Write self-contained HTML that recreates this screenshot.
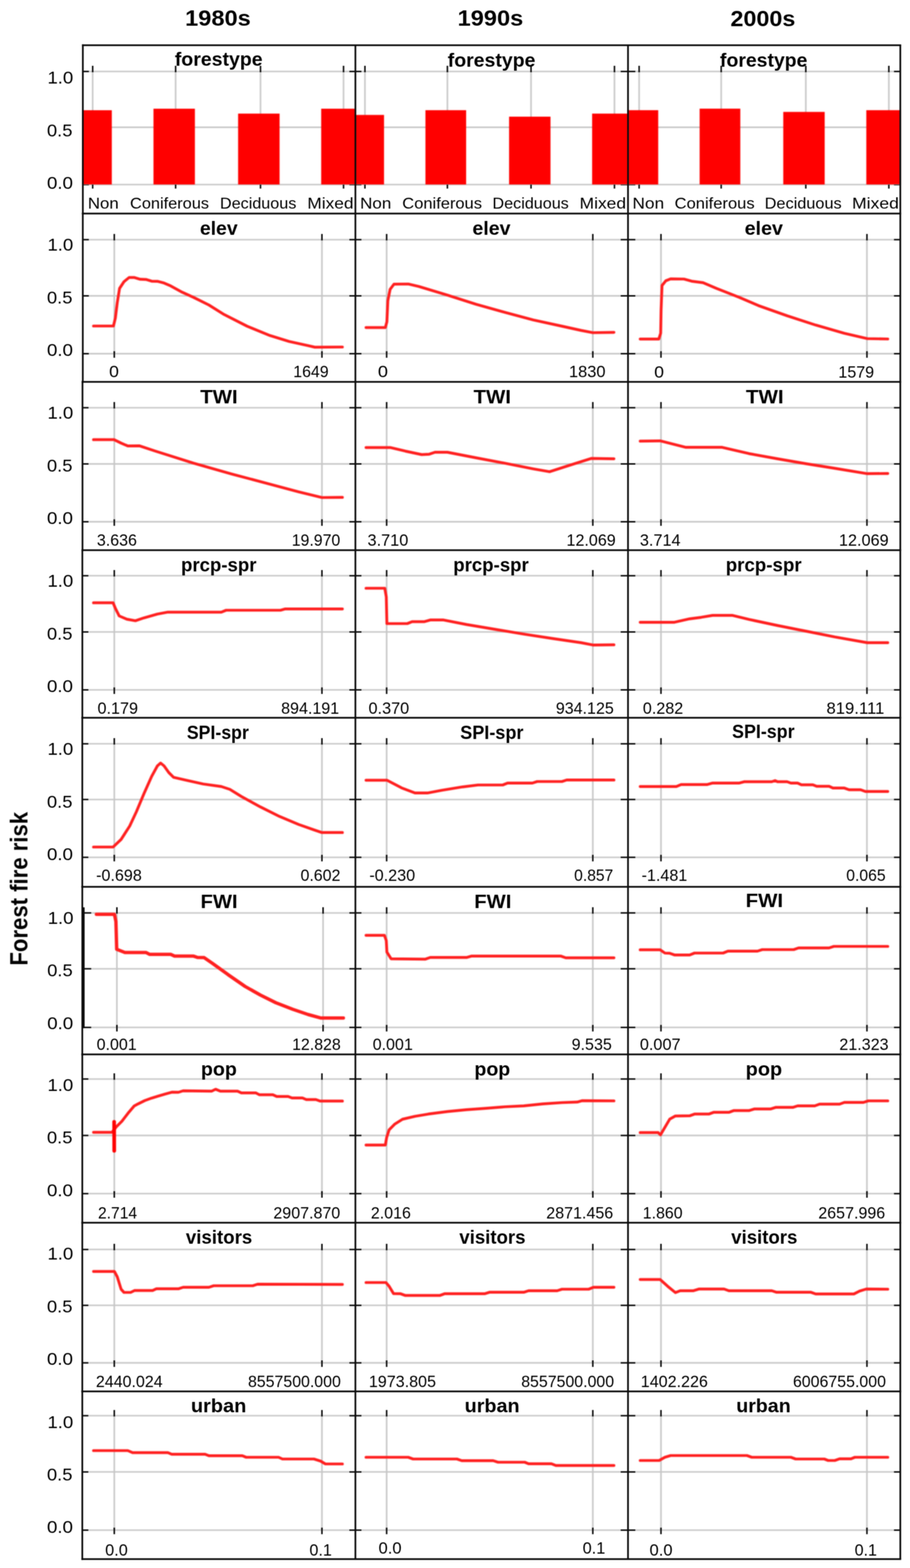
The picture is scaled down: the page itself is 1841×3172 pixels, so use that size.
<!DOCTYPE html>
<html lang="en">
<head>
<meta charset="utf-8">
<title>Forest fire risk response curves: 1980s, 1990s, 2000s</title>
<style>
html,body{margin:0;padding:0;background:#ffffff;}
body{width:1841px;height:3172px;overflow:hidden;}
svg{display:block;}
</style>
</head>
<body>
<svg width="1841" height="3172" viewBox="0 0 1841 3172">
<defs>
<filter id="soft5" x="0" y="0" width="1841" height="3172" filterUnits="userSpaceOnUse" color-interpolation-filters="sRGB"><feConvolveMatrix order="5" kernelMatrix="1 4 6 4 1 4 16 24 16 4 6 24 36 24 6 4 16 24 16 4 1 4 6 4 1" divisor="256" edgeMode="duplicate" preserveAlpha="false"/></filter>
<filter id="soft3" x="0" y="0" width="1841" height="3172" filterUnits="userSpaceOnUse" color-interpolation-filters="sRGB"><feConvolveMatrix order="3" kernelMatrix="1 2 1 2 4 2 1 2 1" divisor="16" edgeMode="duplicate" preserveAlpha="false"/></filter>
</defs>
<rect width="1841" height="3172" fill="#ffffff"/>
<g filter="url(#soft5)">
<g id="grid" fill="none" stroke="#c4c4c4" stroke-width="2.8">
<path d="M167 144.6H719"/>
<path d="M167 257.5H719"/>
<path d="M167 373.3H719"/>
<path stroke="#c6c6c6" stroke-width="3.1" d="M187.5 144.6V373.3"/>
<path stroke="#c6c6c6" stroke-width="3.1" d="M355.3 144.6V373.3"/>
<path stroke="#c6c6c6" stroke-width="3.1" d="M527 144.6V373.3"/>
<path stroke="#c6c6c6" stroke-width="3.1" d="M695 144.6V373.3"/>
<path d="M719 144.6H1270.5"/>
<path d="M719 257.5H1270.5"/>
<path d="M719 373.3H1270.5"/>
<path stroke="#c6c6c6" stroke-width="3.1" d="M738.3 144.6V373.3"/>
<path stroke="#c6c6c6" stroke-width="3.1" d="M905.1 144.6V373.3"/>
<path stroke="#c6c6c6" stroke-width="3.1" d="M1074.3 144.6V373.3"/>
<path stroke="#c6c6c6" stroke-width="3.1" d="M1243.1 144.6V373.3"/>
<path d="M1270.5 144.6H1821.4"/>
<path d="M1270.5 257.5H1821.4"/>
<path d="M1270.5 373.3H1821.4"/>
<path stroke="#c6c6c6" stroke-width="3.1" d="M1293 144.6V373.3"/>
<path stroke="#c6c6c6" stroke-width="3.1" d="M1459 144.6V373.3"/>
<path stroke="#c6c6c6" stroke-width="3.1" d="M1630.2 144.6V373.3"/>
<path stroke="#c6c6c6" stroke-width="3.1" d="M1798.2 144.6V373.3"/>
<path d="M167 484.8H719"/>
<path d="M167 598.5H719"/>
<path d="M167 715.5H719"/>
<path stroke="#c6c6c6" stroke-width="3.1" d="M231.2 484.8V715.5"/>
<path stroke="#c6c6c6" stroke-width="3.1" d="M651.3 484.8V715.5"/>
<path d="M719 484.8H1270.5"/>
<path d="M719 598.5H1270.5"/>
<path d="M719 715.5H1270.5"/>
<path stroke="#c6c6c6" stroke-width="3.1" d="M782.2 484.8V715.5"/>
<path stroke="#c6c6c6" stroke-width="3.1" d="M1199.3 484.8V715.5"/>
<path d="M1270.5 484.8H1821.4"/>
<path d="M1270.5 598.5H1821.4"/>
<path d="M1270.5 715.5H1821.4"/>
<path stroke="#c6c6c6" stroke-width="3.1" d="M1337.2 484.8V715.5"/>
<path stroke="#c6c6c6" stroke-width="3.1" d="M1753.9 484.8V715.5"/>
<path d="M167 824.8H719"/>
<path d="M167 938.5H719"/>
<path d="M167 1055.5H719"/>
<path stroke="#c6c6c6" stroke-width="3.1" d="M231.2 824.8V1055.5"/>
<path stroke="#c6c6c6" stroke-width="3.1" d="M651.3 824.8V1055.5"/>
<path d="M719 824.8H1270.5"/>
<path d="M719 938.5H1270.5"/>
<path d="M719 1055.5H1270.5"/>
<path stroke="#c6c6c6" stroke-width="3.1" d="M782.2 824.8V1055.5"/>
<path stroke="#c6c6c6" stroke-width="3.1" d="M1199.3 824.8V1055.5"/>
<path d="M1270.5 824.8H1821.4"/>
<path d="M1270.5 938.5H1821.4"/>
<path d="M1270.5 1055.5H1821.4"/>
<path stroke="#c6c6c6" stroke-width="3.1" d="M1337.2 824.8V1055.5"/>
<path stroke="#c6c6c6" stroke-width="3.1" d="M1753.9 824.8V1055.5"/>
<path d="M167 1164.7H719"/>
<path d="M167 1278.4H719"/>
<path d="M167 1395.6H719"/>
<path stroke="#c6c6c6" stroke-width="3.1" d="M231.2 1164.7V1395.6"/>
<path stroke="#c6c6c6" stroke-width="3.1" d="M651.3 1164.7V1395.6"/>
<path d="M719 1164.7H1270.5"/>
<path d="M719 1278.4H1270.5"/>
<path d="M719 1395.6H1270.5"/>
<path stroke="#c6c6c6" stroke-width="3.1" d="M782.2 1164.7V1395.6"/>
<path stroke="#c6c6c6" stroke-width="3.1" d="M1199.3 1164.7V1395.6"/>
<path d="M1270.5 1164.7H1821.4"/>
<path d="M1270.5 1278.4H1821.4"/>
<path d="M1270.5 1395.6H1821.4"/>
<path stroke="#c6c6c6" stroke-width="3.1" d="M1337.2 1164.7V1395.6"/>
<path stroke="#c6c6c6" stroke-width="3.1" d="M1753.9 1164.7V1395.6"/>
<path d="M167 1504.7H719"/>
<path d="M167 1617.3H719"/>
<path d="M167 1734.3H719"/>
<path stroke="#c6c6c6" stroke-width="3.1" d="M231.2 1504.7V1734.3"/>
<path stroke="#c6c6c6" stroke-width="3.1" d="M651.3 1504.7V1734.3"/>
<path d="M719 1504.7H1270.5"/>
<path d="M719 1617.3H1270.5"/>
<path d="M719 1734.3H1270.5"/>
<path stroke="#c6c6c6" stroke-width="3.1" d="M782.2 1504.7V1734.3"/>
<path stroke="#c6c6c6" stroke-width="3.1" d="M1199.3 1504.7V1734.3"/>
<path d="M1270.5 1504.7H1821.4"/>
<path d="M1270.5 1617.3H1821.4"/>
<path d="M1270.5 1734.3H1821.4"/>
<path stroke="#c6c6c6" stroke-width="3.1" d="M1337.2 1504.7V1734.3"/>
<path stroke="#c6c6c6" stroke-width="3.1" d="M1753.9 1504.7V1734.3"/>
<path d="M167 1846.8H719"/>
<path d="M167 1959.8H719"/>
<path d="M167 2078.4H719"/>
<path stroke="#c6c6c6" stroke-width="3.1" d="M236.5 1846.8V2078.4"/>
<path stroke="#c6c6c6" stroke-width="3.1" d="M653.6 1846.8V2078.4"/>
<path d="M719 1846.8H1270.5"/>
<path d="M719 1959.8H1270.5"/>
<path d="M719 2078.4H1270.5"/>
<path stroke="#c6c6c6" stroke-width="3.1" d="M782.2 1846.8V2078.4"/>
<path stroke="#c6c6c6" stroke-width="3.1" d="M1199.3 1846.8V2078.4"/>
<path d="M1270.5 1846.8H1821.4"/>
<path d="M1270.5 1959.8H1821.4"/>
<path d="M1270.5 2078.4H1821.4"/>
<path stroke="#c6c6c6" stroke-width="3.1" d="M1337.2 1846.8V2078.4"/>
<path stroke="#c6c6c6" stroke-width="3.1" d="M1753.9 1846.8V2078.4"/>
<path d="M167 2182.8H719"/>
<path d="M167 2297H719"/>
<path d="M167 2414.7H719"/>
<path stroke="#c6c6c6" stroke-width="3.1" d="M231.2 2182.8V2414.7"/>
<path stroke="#c6c6c6" stroke-width="3.1" d="M651.3 2182.8V2414.7"/>
<path d="M719 2182.8H1270.5"/>
<path d="M719 2297H1270.5"/>
<path d="M719 2414.7H1270.5"/>
<path stroke="#c6c6c6" stroke-width="3.1" d="M782.2 2182.8V2414.7"/>
<path stroke="#c6c6c6" stroke-width="3.1" d="M1199.3 2182.8V2414.7"/>
<path d="M1270.5 2182.8H1821.4"/>
<path d="M1270.5 2297H1821.4"/>
<path d="M1270.5 2414.7H1821.4"/>
<path stroke="#c6c6c6" stroke-width="3.1" d="M1337.2 2182.8V2414.7"/>
<path stroke="#c6c6c6" stroke-width="3.1" d="M1753.9 2182.8V2414.7"/>
<path d="M167 2527.7H719"/>
<path d="M167 2640.7H719"/>
<path d="M167 2757H719"/>
<path stroke="#c6c6c6" stroke-width="3.1" d="M231.2 2527.7V2757"/>
<path stroke="#c6c6c6" stroke-width="3.1" d="M651.3 2527.7V2757"/>
<path d="M719 2527.7H1270.5"/>
<path d="M719 2640.7H1270.5"/>
<path d="M719 2757H1270.5"/>
<path stroke="#c6c6c6" stroke-width="3.1" d="M782.2 2527.7V2757"/>
<path stroke="#c6c6c6" stroke-width="3.1" d="M1199.3 2527.7V2757"/>
<path d="M1270.5 2527.7H1821.4"/>
<path d="M1270.5 2640.7H1821.4"/>
<path d="M1270.5 2757H1821.4"/>
<path stroke="#c6c6c6" stroke-width="3.1" d="M1337.2 2527.7V2757"/>
<path stroke="#c6c6c6" stroke-width="3.1" d="M1753.9 2527.7V2757"/>
<path d="M167 2863.9H719"/>
<path d="M167 2977.7H719"/>
<path d="M167 3095.4H719"/>
<path stroke="#c6c6c6" stroke-width="3.1" d="M231.2 2863.9V3095.4"/>
<path stroke="#c6c6c6" stroke-width="3.1" d="M651.3 2863.9V3095.4"/>
<path d="M719 2863.9H1270.5"/>
<path d="M719 2977.7H1270.5"/>
<path d="M719 3095.4H1270.5"/>
<path stroke="#c6c6c6" stroke-width="3.1" d="M782.2 2863.9V3095.4"/>
<path stroke="#c6c6c6" stroke-width="3.1" d="M1199.3 2863.9V3095.4"/>
<path d="M1270.5 2863.9H1821.4"/>
<path d="M1270.5 2977.7H1821.4"/>
<path d="M1270.5 3095.4H1821.4"/>
<path stroke="#c6c6c6" stroke-width="3.1" d="M1337.2 2863.9V3095.4"/>
<path stroke="#c6c6c6" stroke-width="3.1" d="M1753.9 2863.9V3095.4"/>
</g>
<g id="bars" fill="#ff0000">
<rect x="167" y="223" width="59.2" height="150.2"/>
<rect x="310.5" y="219.9" width="83.8" height="153.3"/>
<rect x="481.7" y="229.8" width="83.9" height="143.4"/>
<rect x="649.8" y="219.9" width="69.2" height="153.3"/>
<rect x="719" y="232.5" width="57.9" height="140.7"/>
<rect x="860.7" y="222.9" width="82.3" height="150.3"/>
<rect x="1029.9" y="236" width="83.8" height="137.2"/>
<rect x="1197.9" y="229.8" width="72.6" height="143.4"/>
<rect x="1270.5" y="222.9" width="61.1" height="150.3"/>
<rect x="1415.4" y="219.8" width="82.3" height="153.4"/>
<rect x="1584.6" y="226.4" width="83.8" height="146.8"/>
<rect x="1752.6" y="222.9" width="68.8" height="150.3"/>
</g>
<g id="curves" fill="none" stroke="#ff2020" stroke-width="5.7" stroke-linejoin="round" stroke-linecap="round">
<path d="M189.2 659.5L229.5 659.5L233.4 643.3L237.2 612.4L241.9 583.4L250.8 569.9L261.2 561.4L272 561.4L283.6 564.9L295.2 565.3L306.8 568.8L318.4 569.1L331.9 572.6L345.4 578.4L368.6 591.2L391.7 601.6L422.6 617L453.5 636.3L499.9 659.9L546.2 678.8L584.9 690.8L623.5 699.3L637 702.4L692.7 702.02"/>
<path d="M740.5 662.6L779.6 662.6L782.7 651L784.6 608.5L789.2 585.4L797 574.9L825.9 574.5L847.2 579.6L905.1 596.9L963 615.5L1021 631.7L1078.9 647.2L1136.9 659.9L1175.5 668.4L1199.4 673L1242 672.33"/>
<path d="M1295.2 685.8L1332.8 685.8L1336.6 674.2L1337.4 627.8L1339.3 577.6L1347 568L1356.7 564.1L1383.7 564.5L1399.2 568.8L1422.4 571.8L1449.4 583.4L1495.8 601.6L1534.4 618.2L1592.3 638.7L1650.2 657.6L1708.2 674.2L1754.5 685L1796 685.76"/>
<path d="M189.2 889.4L230.7 889.4L245 896.4L258.5 902.2L281.7 901.8L314.5 912.6L391.7 937L469 959L546.2 979.4L604.2 994.9L651.3 1006.5L692.7 1006.12"/>
<path d="M740.5 905.3L789.3 905.3L820.1 912.6L853 919.6L868.4 918.8L880 914.9L905.1 914.9L963.1 926.1L1021 937L1078.9 948.5L1111.8 954.3L1156.2 940L1196.7 927.3L1242 928.06"/>
<path d="M1295.2 892.46L1335.5 891.8L1387.6 904.9L1461 904.9L1515.1 917.6L1573 928.1L1630.9 938.1L1688.9 947.4L1754.5 958.2L1796 957.82"/>
<path d="M189.2 1219.4L228.8 1219.4L233.4 1230.6L241.1 1246L256.6 1252.6L273.9 1255.7L291.3 1249.9L318.4 1242.2L339.6 1238.3L447.8 1238.3L457.4 1234.5L567.5 1234.5L577.2 1231.8L692.7 1231.8"/>
<path d="M740.5 1190L778.4 1190L781.5 1207.4L782.7 1261.5L824 1261.5L833.7 1257.6L858.8 1257.6L870.4 1254.2L897.4 1254.2L943.8 1263.4L1001.7 1273.1L1059.6 1282.7L1117.6 1291.6L1175.5 1300.1L1199.4 1304.8L1242 1304.42"/>
<path d="M1295.2 1258.8L1364.4 1258.8L1395.3 1251.8L1418.5 1248.8L1441.7 1244.9L1482.2 1244.9L1515.1 1253L1573 1265.4L1630.9 1276.9L1688.9 1288.5L1754.5 1300.1L1796 1300.1"/>
<path d="M189.2 1713.5L228.8 1713.5L245 1698.1L262.4 1671L275.9 1642.1L291.3 1605.4L306.8 1570.6L318.4 1549.4L324.9 1543.6L331.9 1549.4L341.5 1562.9L351.2 1572.5L376.3 1578.3L411.1 1586L447.8 1591.1L465.1 1596.9L488.3 1611.2L526.9 1632.4L565.6 1651.7L604.2 1667.9L635.1 1678.7L651.3 1684.2L692.7 1684.2"/>
<path d="M740.5 1578.3L782.7 1578.3L812.4 1593.8L839.5 1604.2L864.6 1604.2L893.5 1598.8L936 1591.8L966.9 1588L1017.1 1588L1026.8 1584.1L1077 1584.1L1086.7 1581L1136.9 1581L1146.5 1577.9L1242 1577.9"/>
<path d="M1295.2 1591.1L1368.3 1591.1L1377.9 1587.2L1430.1 1587.2L1441.7 1584.1L1495.8 1584.1L1505.4 1581.4L1561.4 1581.4L1568 1579.1L1573 1581.4L1592.3 1581.4L1600 1584.1L1613.6 1584.1L1621.3 1587.6L1644.5 1587.6L1652.2 1590.7L1677.3 1590.7L1685 1594.2L1708.2 1594.2L1717.8 1597.6L1741 1597.6L1750.7 1601.1L1796 1601.1"/>
<path stroke-width="6.8" d="M195 1849.6L231.5 1849.6L234.5 1864.3L236.1 1920.3L252.7 1926.8L295.2 1926.8L302.9 1930.7L345.4 1930.7L353.1 1934.2L391.7 1934.2L399.5 1936.9L413 1937.2L430.4 1949.2L461.3 1971.6L496 1995.6L526.9 2013L557.8 2028.4L592.6 2041.9L623.5 2052.4L648.6 2059.3L694.7 2059.3"/>
<path d="M740.5 1892.1L777.7 1892.1L781.5 1902.9L782.7 1926L791.2 1939.6L860.7 1940.3L870.4 1936.9L943.8 1936.9L953.4 1934.2L1135 1934.2L1144.6 1937.6L1242 1937.6"/>
<path d="M1295.2 1921.4L1335.5 1921.4L1345.1 1928L1354.8 1928.4L1364.4 1931.8L1395.3 1931.8L1405 1928L1462.9 1928L1472.6 1924.1L1532.4 1924.1L1542.1 1921L1605.8 1921L1615.5 1917.6L1677.3 1917.6L1686.9 1914.5L1796 1914.5"/>
<path d="M189.2 2290.6L226.5 2290.6L235.6 2279.2L246.6 2268.2L258.9 2252.2L271.2 2237.6L279.4 2233.1L293 2226.4L306.7 2221.4L320.4 2217.3L334 2213.2L347.7 2209.4L361 2209.6L370.5 2206.6L428.4 2207.3L436.2 2203.5L445.8 2207.3L480.6 2207.3L488.3 2210.8L517.3 2210.8L525 2214.7L552 2214.7L559.8 2218.2L582.9 2218.2L590.7 2221.2L611.9 2221.2L619.6 2224.3L639 2224.3L647.4 2227.4L692.7 2227.4"/>
<path d="M740.5 2316.3L779.6 2316.3L782.3 2300.8L787.3 2285.4L798.9 2273.8L814.4 2264.1L839.5 2258.3L866.5 2253.7L905.1 2248.7L943.8 2244.8L982.4 2242.1L1021 2239L1059.6 2237.1L1098.2 2233.2L1136.9 2230.5L1167.8 2229.4L1177.4 2226.7L1242 2226.99"/>
<path d="M1295.2 2291.2L1331.6 2291.2L1336.2 2295.8L1354.8 2264.1L1366.4 2257.6L1395.3 2257.2L1405 2253.7L1434 2253.7L1443.6 2250.2L1474.5 2250.2L1484.2 2246.7L1515.1 2246.7L1526.6 2243.3L1559.5 2243.3L1569.1 2240.2L1603.9 2240.2L1613.6 2237.1L1648.3 2237.1L1658 2233.6L1698.5 2233.6L1708.2 2230.1L1746.8 2230.1L1756.5 2227L1796 2227"/>
<path d="M189.2 2572.1L231.5 2572.1L237.2 2582.9L245 2608L250.8 2614.5L264.3 2614.5L272 2610.7L308.7 2610.7L316.4 2607.2L360.8 2607.2L370.5 2604.1L422.6 2604.1L432.3 2601L511.5 2601L521.1 2597.9L692.7 2598.29"/>
<path d="M740.5 2594.5L780.8 2594.5L787.3 2602.2L796.2 2616.9L810.5 2617.2L820.1 2620.7L889.7 2620.7L899.3 2617.2L980.4 2617.2L990.1 2614.2L1059.6 2614.2L1069.3 2611.1L1127.2 2611.1L1136.9 2608L1190.9 2608L1200.6 2604.1L1242 2604.1"/>
<path d="M1295.2 2588.3L1335.5 2588.3L1350.9 2602.2L1366.4 2614.9L1376 2611.1L1403 2611.1L1414.6 2607.6L1464.8 2607.6L1474.5 2611.1L1561.4 2611.1L1571.1 2614.2L1640.6 2614.2L1650.2 2617.6L1727.5 2617.6L1739.1 2611.8L1752.6 2607.6L1796 2607.98"/>
<path d="M189.2 2934.5L258.5 2934.5L268.2 2938.7L339.6 2938.7L347.3 2941.8L414.9 2941.8L422.6 2944.9L490.2 2944.9L498 2948L563.6 2948L571.4 2951.5L635.1 2951.5L648.6 2955.7L658.3 2961.5L692.7 2961.5"/>
<path d="M740.5 2948L825.9 2948L835.6 2951.5L924.4 2951.5L934.1 2954.9L997.8 2954.9L1007.5 2958L1061.6 2958L1069.3 2961.1L1115.6 2961.1L1124.5 2964.6L1242 2964.6"/>
<path d="M1295.2 2954.5L1333.5 2954.5L1345.1 2948L1356.7 2944.5L1511.2 2944.5L1520.9 2948L1600 2948L1609.7 2951.5L1667.6 2951.5L1675.4 2954.5L1688.9 2954.5L1698.5 2951.1L1721.7 2951.1L1729.4 2948L1796 2948"/>
<path stroke="#ff0000" stroke-linecap="round" stroke-width="7.4" d="M230.9 2269.5L231.1 2328"/>
</g>
</g>
<g filter="url(#soft3)">
<g id="ticks" fill="none" stroke="#141414" stroke-width="3.2">
<path d="M187.5 133.1V146.1"/>
<path d="M187.5 373.3V381.5"/>
<path d="M355.3 133.1V146.1"/>
<path d="M355.3 373.3V381.5"/>
<path d="M527 133.1V146.1"/>
<path d="M527 373.3V381.5"/>
<path d="M695 133.1V146.1"/>
<path d="M695 373.3V381.5"/>
<path d="M738.3 133.1V146.1"/>
<path d="M738.3 373.3V381.5"/>
<path d="M905.1 133.1V146.1"/>
<path d="M905.1 373.3V381.5"/>
<path d="M1074.3 133.1V146.1"/>
<path d="M1074.3 373.3V381.5"/>
<path d="M1243.1 133.1V146.1"/>
<path d="M1243.1 373.3V381.5"/>
<path d="M1293 133.1V146.1"/>
<path d="M1293 373.3V381.5"/>
<path d="M1459 133.1V146.1"/>
<path d="M1459 373.3V381.5"/>
<path d="M1630.2 133.1V146.1"/>
<path d="M1630.2 373.3V381.5"/>
<path d="M1798.2 133.1V146.1"/>
<path d="M1798.2 373.3V381.5"/>
<path stroke-width="2.9" d="M167.6 144.6H179.8"/>
<path stroke-width="2.9" d="M706.8 144.6H731.2"/>
<path stroke-width="2.9" d="M1255.7 144.6H1285.3"/>
<path stroke-width="2.9" d="M1808.6 144.6H1821.4"/>
<path stroke-width="1.4" d="M167.6 374.1H179.8"/>
<path stroke-width="1.4" d="M706.8 374.1H731.2"/>
<path stroke-width="1.4" d="M1255.7 374.1H1285.3"/>
<path stroke-width="1.4" d="M1808.6 374.1H1821.4"/>
<path d="M231.2 473.3V486.3"/>
<path d="M231.2 710.5V723.7"/>
<path d="M651.3 473.3V486.3"/>
<path d="M651.3 710.5V723.7"/>
<path d="M782.2 473.3V486.3"/>
<path d="M782.2 710.5V723.7"/>
<path d="M1199.3 473.3V486.3"/>
<path d="M1199.3 710.5V723.7"/>
<path d="M1337.2 473.3V486.3"/>
<path d="M1337.2 710.5V723.7"/>
<path d="M1753.9 473.3V486.3"/>
<path d="M1753.9 710.5V723.7"/>
<path stroke-width="2.9" d="M167.5 484.8H179.7"/>
<path stroke-width="2.9" d="M706.8 484.8H731.2"/>
<path stroke-width="2.9" d="M1255.7 484.8H1285.3"/>
<path stroke-width="2.9" d="M1808.6 484.8H1821.4"/>
<path stroke-width="2.9" d="M167.5 598.5H179.7"/>
<path stroke-width="2.9" d="M706.8 598.5H731.2"/>
<path stroke-width="2.9" d="M1255.7 598.5H1285.3"/>
<path stroke-width="2.9" d="M1808.6 598.5H1821.4"/>
<path stroke-width="2.9" d="M167.5 715.5H179.7"/>
<path stroke-width="2.9" d="M706.8 715.5H731.2"/>
<path stroke-width="2.9" d="M1255.7 715.5H1285.3"/>
<path stroke-width="2.9" d="M1808.6 715.5H1821.4"/>
<path d="M231.2 813.3V826.3"/>
<path d="M231.2 1050.5V1063.7"/>
<path d="M651.3 813.3V826.3"/>
<path d="M651.3 1050.5V1063.7"/>
<path d="M782.2 813.3V826.3"/>
<path d="M782.2 1050.5V1063.7"/>
<path d="M1199.3 813.3V826.3"/>
<path d="M1199.3 1050.5V1063.7"/>
<path d="M1337.2 813.3V826.3"/>
<path d="M1337.2 1050.5V1063.7"/>
<path d="M1753.9 813.3V826.3"/>
<path d="M1753.9 1050.5V1063.7"/>
<path stroke-width="2.9" d="M166.9 824.8H179.1"/>
<path stroke-width="2.9" d="M706.8 824.8H731.2"/>
<path stroke-width="2.9" d="M1255.7 824.8H1285.3"/>
<path stroke-width="2.9" d="M1808.6 824.8H1821.4"/>
<path stroke-width="2.9" d="M166.9 938.5H179.1"/>
<path stroke-width="2.9" d="M706.8 938.5H731.2"/>
<path stroke-width="2.9" d="M1255.7 938.5H1285.3"/>
<path stroke-width="2.9" d="M1808.6 938.5H1821.4"/>
<path stroke-width="2.9" d="M166.9 1055.5H179.1"/>
<path stroke-width="2.9" d="M706.8 1055.5H731.2"/>
<path stroke-width="2.9" d="M1255.7 1055.5H1285.3"/>
<path stroke-width="2.9" d="M1808.6 1055.5H1821.4"/>
<path d="M231.2 1153.2V1166.2"/>
<path d="M231.2 1390.6V1403.8"/>
<path d="M651.3 1153.2V1166.2"/>
<path d="M651.3 1390.6V1403.8"/>
<path d="M782.2 1153.2V1166.2"/>
<path d="M782.2 1390.6V1403.8"/>
<path d="M1199.3 1153.2V1166.2"/>
<path d="M1199.3 1390.6V1403.8"/>
<path d="M1337.2 1153.2V1166.2"/>
<path d="M1337.2 1390.6V1403.8"/>
<path d="M1753.9 1153.2V1166.2"/>
<path d="M1753.9 1390.6V1403.8"/>
<path stroke-width="2.9" d="M166.6 1164.7H178.8"/>
<path stroke-width="2.9" d="M706.8 1164.7H731.2"/>
<path stroke-width="2.9" d="M1255.7 1164.7H1285.3"/>
<path stroke-width="2.9" d="M1808.6 1164.7H1821.4"/>
<path stroke-width="2.9" d="M166.6 1278.4H178.8"/>
<path stroke-width="2.9" d="M706.8 1278.4H731.2"/>
<path stroke-width="2.9" d="M1255.7 1278.4H1285.3"/>
<path stroke-width="2.9" d="M1808.6 1278.4H1821.4"/>
<path stroke-width="2.9" d="M166.6 1395.6H178.8"/>
<path stroke-width="2.9" d="M706.8 1395.6H731.2"/>
<path stroke-width="2.9" d="M1255.7 1395.6H1285.3"/>
<path stroke-width="2.9" d="M1808.6 1395.6H1821.4"/>
<path d="M231.2 1493.2V1506.2"/>
<path d="M231.2 1729.3V1742.5"/>
<path d="M651.3 1493.2V1506.2"/>
<path d="M651.3 1729.3V1742.5"/>
<path d="M782.2 1493.2V1506.2"/>
<path d="M782.2 1729.3V1742.5"/>
<path d="M1199.3 1493.2V1506.2"/>
<path d="M1199.3 1729.3V1742.5"/>
<path d="M1337.2 1493.2V1506.2"/>
<path d="M1337.2 1729.3V1742.5"/>
<path d="M1753.9 1493.2V1506.2"/>
<path d="M1753.9 1729.3V1742.5"/>
<path stroke-width="2.9" d="M166.5 1504.7H178.7"/>
<path stroke-width="2.9" d="M706.8 1504.7H731.2"/>
<path stroke-width="2.9" d="M1255.7 1504.7H1285.3"/>
<path stroke-width="2.9" d="M1808.6 1504.7H1821.4"/>
<path stroke-width="2.9" d="M166.5 1617.3H178.7"/>
<path stroke-width="2.9" d="M706.8 1617.3H731.2"/>
<path stroke-width="2.9" d="M1255.7 1617.3H1285.3"/>
<path stroke-width="2.9" d="M1808.6 1617.3H1821.4"/>
<path stroke-width="2.9" d="M166.5 1734.3H178.7"/>
<path stroke-width="2.9" d="M706.8 1734.3H731.2"/>
<path stroke-width="2.9" d="M1255.7 1734.3H1285.3"/>
<path stroke-width="2.9" d="M1808.6 1734.3H1821.4"/>
<path d="M236.5 1835.3V1848.3"/>
<path d="M236.5 2073.4V2086.6"/>
<path d="M653.6 1835.3V1848.3"/>
<path d="M653.6 2073.4V2086.6"/>
<path d="M782.2 1835.3V1848.3"/>
<path d="M782.2 2073.4V2086.6"/>
<path d="M1199.3 1835.3V1848.3"/>
<path d="M1199.3 2073.4V2086.6"/>
<path d="M1337.2 1835.3V1848.3"/>
<path d="M1337.2 2073.4V2086.6"/>
<path d="M1753.9 1835.3V1848.3"/>
<path d="M1753.9 2073.4V2086.6"/>
<path stroke-width="2.9" d="M166.5 1846.8H184.5"/>
<path stroke-width="2.9" d="M706.8 1846.8H731.2"/>
<path stroke-width="2.9" d="M1255.7 1846.8H1285.3"/>
<path stroke-width="2.9" d="M1808.6 1846.8H1821.4"/>
<path stroke-width="2.9" d="M166.5 1959.8H184.5"/>
<path stroke-width="2.9" d="M706.8 1959.8H731.2"/>
<path stroke-width="2.9" d="M1255.7 1959.8H1285.3"/>
<path stroke-width="2.9" d="M1808.6 1959.8H1821.4"/>
<path stroke-width="2.9" d="M166.5 2078.4H184.5"/>
<path stroke-width="2.9" d="M706.8 2078.4H731.2"/>
<path stroke-width="2.9" d="M1255.7 2078.4H1285.3"/>
<path stroke-width="2.9" d="M1808.6 2078.4H1821.4"/>
<path d="M231.2 2171.3V2184.3"/>
<path d="M231.2 2409.7V2422.9"/>
<path d="M651.3 2171.3V2184.3"/>
<path d="M651.3 2409.7V2422.9"/>
<path d="M782.2 2171.3V2184.3"/>
<path d="M782.2 2409.7V2422.9"/>
<path d="M1199.3 2171.3V2184.3"/>
<path d="M1199.3 2409.7V2422.9"/>
<path d="M1337.2 2171.3V2184.3"/>
<path d="M1337.2 2409.7V2422.9"/>
<path d="M1753.9 2171.3V2184.3"/>
<path d="M1753.9 2409.7V2422.9"/>
<path stroke-width="2.9" d="M166.5 2182.8H178.7"/>
<path stroke-width="2.9" d="M706.8 2182.8H731.2"/>
<path stroke-width="2.9" d="M1255.7 2182.8H1285.3"/>
<path stroke-width="2.9" d="M1808.6 2182.8H1821.4"/>
<path stroke-width="2.9" d="M166.5 2297H178.7"/>
<path stroke-width="2.9" d="M706.8 2297H731.2"/>
<path stroke-width="2.9" d="M1255.7 2297H1285.3"/>
<path stroke-width="2.9" d="M1808.6 2297H1821.4"/>
<path stroke-width="2.9" d="M166.5 2414.7H178.7"/>
<path stroke-width="2.9" d="M706.8 2414.7H731.2"/>
<path stroke-width="2.9" d="M1255.7 2414.7H1285.3"/>
<path stroke-width="2.9" d="M1808.6 2414.7H1821.4"/>
<path d="M231.2 2516.2V2529.2"/>
<path d="M231.2 2752V2765.2"/>
<path d="M651.3 2516.2V2529.2"/>
<path d="M651.3 2752V2765.2"/>
<path d="M782.2 2516.2V2529.2"/>
<path d="M782.2 2752V2765.2"/>
<path d="M1199.3 2516.2V2529.2"/>
<path d="M1199.3 2752V2765.2"/>
<path d="M1337.2 2516.2V2529.2"/>
<path d="M1337.2 2752V2765.2"/>
<path d="M1753.9 2516.2V2529.2"/>
<path d="M1753.9 2752V2765.2"/>
<path stroke-width="2.9" d="M166.5 2527.7H178.7"/>
<path stroke-width="2.9" d="M706.8 2527.7H731.2"/>
<path stroke-width="2.9" d="M1255.7 2527.7H1285.3"/>
<path stroke-width="2.9" d="M1808.6 2527.7H1821.4"/>
<path stroke-width="2.9" d="M166.5 2640.7H178.7"/>
<path stroke-width="2.9" d="M706.8 2640.7H731.2"/>
<path stroke-width="2.9" d="M1255.7 2640.7H1285.3"/>
<path stroke-width="2.9" d="M1808.6 2640.7H1821.4"/>
<path stroke-width="2.9" d="M166.5 2757H178.7"/>
<path stroke-width="2.9" d="M706.8 2757H731.2"/>
<path stroke-width="2.9" d="M1255.7 2757H1285.3"/>
<path stroke-width="2.9" d="M1808.6 2757H1821.4"/>
<path d="M231.2 2852.4V2865.4"/>
<path d="M231.2 3090.4V3103.6"/>
<path d="M651.3 2852.4V2865.4"/>
<path d="M651.3 3090.4V3103.6"/>
<path d="M782.2 2852.4V2865.4"/>
<path d="M782.2 3090.4V3103.6"/>
<path d="M1199.3 2852.4V2865.4"/>
<path d="M1199.3 3090.4V3103.6"/>
<path d="M1337.2 2852.4V2865.4"/>
<path d="M1337.2 3090.4V3103.6"/>
<path d="M1753.9 2852.4V2865.4"/>
<path d="M1753.9 3090.4V3103.6"/>
<path stroke-width="2.9" d="M166.5 2863.9H178.7"/>
<path stroke-width="2.9" d="M706.8 2863.9H731.2"/>
<path stroke-width="2.9" d="M1255.7 2863.9H1285.3"/>
<path stroke-width="2.9" d="M1808.6 2863.9H1821.4"/>
<path stroke-width="2.9" d="M166.5 2977.7H178.7"/>
<path stroke-width="2.9" d="M706.8 2977.7H731.2"/>
<path stroke-width="2.9" d="M1255.7 2977.7H1285.3"/>
<path stroke-width="2.9" d="M1808.6 2977.7H1821.4"/>
<path stroke-width="2.9" d="M166.5 3095.4H178.7"/>
<path stroke-width="2.9" d="M706.8 3095.4H731.2"/>
<path stroke-width="2.9" d="M1255.7 3095.4H1285.3"/>
<path stroke-width="2.9" d="M1808.6 3095.4H1821.4"/>
</g>
<g id="frame" fill="none" stroke="#0c0c0c" stroke-width="3.5">
<path d="M165.85 91.6H1823.15"/>
<path d="M165.75 432.1H1823.15"/>
<path d="M165.15 772.6H1823.15"/>
<path d="M164.85 1113.1H1823.15"/>
<path d="M164.75 1452H1823.15"/>
<path d="M164.75 1794H1823.15"/>
<path d="M164.75 2132.9H1823.15"/>
<path d="M164.75 2473.6H1823.15"/>
<path d="M164.75 2814.8H1823.15"/>
<path d="M164.75 3154H1823.15"/>
<path d="M719 91.6V3154"/>
<path d="M1270.5 91.6V3154"/>
<path d="M1821.4 91.6V3154"/>
<path d="M167.6 89.85V433.85"/>
<path d="M167.5 430.35V774.35"/>
<path d="M166.9 770.85V1114.85"/>
<path d="M166.6 1111.35V1453.75"/>
<path d="M166.5 1450.25V1795.75"/>
<path d="M166.5 1792.25V2134.65"/>
<path d="M166.5 2131.15V2475.35"/>
<path d="M166.5 2471.85V2816.55"/>
<path d="M166.5 2813.05V3155.75"/>
<path stroke-width="4.4" d="M169 1835.5V2080"/>
</g>
<g id="labels" font-family="'Liberation Sans', Arial, sans-serif" fill="#000000">
<text transform="translate(374.51 51.9) scale(1.0710 1)" font-size="44.6" font-weight="bold">1980s</text>
<text transform="translate(925.71 51.9) scale(1.0719 1)" font-size="44.6" font-weight="bold">1990s</text>
<text transform="translate(1477.65 53.4) scale(1.0602 1)" font-size="44.6" font-weight="bold">2000s</text>
<text transform="translate(353.71 132.6) scale(0.9965 1)" font-size="39.6" font-weight="bold">forestype</text>
<text transform="translate(177.69 422.2) scale(1.0645 1)" font-size="32">Non</text>
<text transform="translate(263.05 422.2) scale(1.0329 1)" font-size="32">Coniferous</text>
<text transform="translate(445.1 422.2) scale(1.0214 1)" font-size="32">Deciduous</text>
<text transform="translate(621.81 422.2) scale(1.0939 1)" font-size="32">Mixed</text>
<text transform="translate(905.81 135.2) scale(0.9959 1)" font-size="39.6" font-weight="bold">forestype</text>
<text transform="translate(728.46 422.2) scale(1.0757 1)" font-size="32">Non</text>
<text transform="translate(813.83 422.2) scale(1.0421 1)" font-size="32">Coniferous</text>
<text transform="translate(996.3 422.2) scale(1.0214 1)" font-size="32">Deciduous</text>
<text transform="translate(1172.6 422.2) scale(1.1001 1)" font-size="32">Mixed</text>
<text transform="translate(1456.61 135.2) scale(0.9925 1)" font-size="39.6" font-weight="bold">forestype</text>
<text transform="translate(1279.62 422.2) scale(1.0905 1)" font-size="32">Non</text>
<text transform="translate(1364.73 422.2) scale(1.0467 1)" font-size="32">Coniferous</text>
<text transform="translate(1547.08 422.2) scale(1.0296 1)" font-size="32">Deciduous</text>
<text transform="translate(1723.77 422.2) scale(1.1100 1)" font-size="32">Mixed</text>
<text transform="translate(95.88 169.24) scale(1.0488 1)" font-size="35.9">1.0</text>
<text transform="translate(95.02 275.64) scale(1.0313 1)" font-size="35.9">0.5</text>
<text transform="translate(94.98 382.04) scale(1.0569 1)" font-size="35.9">0.0</text>
<text transform="translate(404.43 474.7) scale(0.9902 1)" font-size="39.6" font-weight="bold">elev</text>
<text transform="translate(220.78 762.7) scale(1.0596 1)" font-size="33.6">0</text>
<text transform="translate(593.29 762.7) scale(0.9569 1)" font-size="33.6">1649</text>
<text transform="translate(955.72 474.7) scale(0.9995 1)" font-size="39.6" font-weight="bold">elev</text>
<text transform="translate(764.53 762.7) scale(1.0908 1)" font-size="33.6">0</text>
<text transform="translate(1151 762.7) scale(0.9916 1)" font-size="33.6">1830</text>
<text transform="translate(1506.41 474.7) scale(1.0061 1)" font-size="39.6" font-weight="bold">elev</text>
<text transform="translate(1323.58 763.8) scale(1.0596 1)" font-size="33.6">0</text>
<text transform="translate(1696.06 763.8) scale(0.9682 1)" font-size="33.6">1579</text>
<text transform="translate(95.88 507.14) scale(1.0488 1)" font-size="35.9">1.0</text>
<text transform="translate(95.02 613.54) scale(1.0313 1)" font-size="35.9">0.5</text>
<text transform="translate(94.98 719.94) scale(1.0569 1)" font-size="35.9">0.0</text>
<text transform="translate(404.88 815.6) scale(1.0476 1)" font-size="39.6" font-weight="bold">TWI</text>
<text transform="translate(195.98 1103.7) scale(0.9644 1)" font-size="33.6">3.636</text>
<text transform="translate(590.19 1103.7) scale(0.9560 1)" font-size="33.6">19.970</text>
<text transform="translate(957.98 815.6) scale(1.0447 1)" font-size="39.6" font-weight="bold">TWI</text>
<text transform="translate(743.56 1103.7) scale(0.9808 1)" font-size="33.6">3.710</text>
<text transform="translate(1146.06 1103.7) scale(0.9696 1)" font-size="33.6">12.069</text>
<text transform="translate(1508.98 815.6) scale(1.0519 1)" font-size="39.6" font-weight="bold">TWI</text>
<text transform="translate(1294.46 1103.7) scale(0.9805 1)" font-size="33.6">3.714</text>
<text transform="translate(1697.24 1103.7) scale(0.9777 1)" font-size="33.6">12.069</text>
<text transform="translate(95.88 847.14) scale(1.0488 1)" font-size="35.9">1.0</text>
<text transform="translate(95.02 953.54) scale(1.0313 1)" font-size="35.9">0.5</text>
<text transform="translate(94.98 1059.94) scale(1.0569 1)" font-size="35.9">0.0</text>
<text transform="translate(366.15 1155.7) scale(0.9511 1)" font-size="39.6" font-weight="bold">prcp-spr</text>
<text transform="translate(197.29 1444) scale(0.9750 1)" font-size="33.6">0.179</text>
<text transform="translate(568.82 1444) scale(0.9657 1)" font-size="33.6">894.191</text>
<text transform="translate(916.95 1155.7) scale(0.9517 1)" font-size="39.6" font-weight="bold">prcp-spr</text>
<text transform="translate(745.48 1444) scale(0.9806 1)" font-size="33.6">0.370</text>
<text transform="translate(1124.46 1444) scale(0.9659 1)" font-size="33.6">934.125</text>
<text transform="translate(1468.14 1155.7) scale(0.9568 1)" font-size="39.6" font-weight="bold">prcp-spr</text>
<text transform="translate(1300.6 1444) scale(0.9709 1)" font-size="33.6">0.282</text>
<text transform="translate(1671.96 1444) scale(1.0053 1)" font-size="33.6">819.111</text>
<text transform="translate(95.88 1187.14) scale(1.0488 1)" font-size="35.9">1.0</text>
<text transform="translate(95.02 1293.54) scale(1.0313 1)" font-size="35.9">0.5</text>
<text transform="translate(94.98 1399.94) scale(1.0569 1)" font-size="35.9">0.0</text>
<text transform="translate(377.92 1494.6) scale(0.9057 1)" font-size="39.6" font-weight="bold">SPI-spr</text>
<text transform="translate(194.43 1782) scale(0.9706 1)" font-size="33.6">-0.698</text>
<text transform="translate(607.91 1782) scale(0.9623 1)" font-size="33.6">0.602</text>
<text transform="translate(931.1 1494.6) scale(0.9225 1)" font-size="39.6" font-weight="bold">SPI-spr</text>
<text transform="translate(747.23 1782) scale(0.9731 1)" font-size="33.6">-0.230</text>
<text transform="translate(1161.53 1782) scale(0.9425 1)" font-size="33.6">0.857</text>
<text transform="translate(1481.12 1492.6) scale(0.9115 1)" font-size="39.6" font-weight="bold">SPI-spr</text>
<text transform="translate(1298.03 1782) scale(0.9691 1)" font-size="33.6">-1.481</text>
<text transform="translate(1711.92 1782) scale(0.9497 1)" font-size="33.6">0.065</text>
<text transform="translate(95.88 1527.14) scale(1.0488 1)" font-size="35.9">1.0</text>
<text transform="translate(95.02 1633.54) scale(1.0313 1)" font-size="35.9">0.5</text>
<text transform="translate(94.98 1739.94) scale(1.0569 1)" font-size="35.9">0.0</text>
<text transform="translate(405.64 1837.2) scale(1.0339 1)" font-size="39.6" font-weight="bold">FWI</text>
<text transform="translate(195.4 2123.7) scale(0.9662 1)" font-size="33.6">0.001</text>
<text transform="translate(590.99 2123.7) scale(0.9576 1)" font-size="33.6">12.828</text>
<text transform="translate(959.54 1837.2) scale(1.0339 1)" font-size="39.6" font-weight="bold">FWI</text>
<text transform="translate(754 2123.7) scale(0.9662 1)" font-size="33.6">0.001</text>
<text transform="translate(1156.56 2123.7) scale(0.9662 1)" font-size="33.6">9.535</text>
<text transform="translate(1508.4 1834.7) scale(1.0458 1)" font-size="39.6" font-weight="bold">FWI</text>
<text transform="translate(1294.38 2123.7) scale(0.9808 1)" font-size="33.6">0.007</text>
<text transform="translate(1698.07 2123.7) scale(0.9686 1)" font-size="33.6">21.323</text>
<text transform="translate(96.38 1868.94) scale(1.0488 1)" font-size="35.9">1.0</text>
<text transform="translate(95.52 1975.34) scale(1.0313 1)" font-size="35.9">0.5</text>
<text transform="translate(95.48 2081.74) scale(1.0569 1)" font-size="35.9">0.0</text>
<text transform="translate(406.53 2175.5) scale(0.9999 1)" font-size="39.6" font-weight="bold">pop</text>
<text transform="translate(198.22 2465.4) scale(0.9426 1)" font-size="33.6">2.714</text>
<text transform="translate(553.08 2465.4) scale(0.9659 1)" font-size="33.6">2907.870</text>
<text transform="translate(959.73 2175.5) scale(0.9999 1)" font-size="39.6" font-weight="bold">pop</text>
<text transform="translate(750.18 2465.4) scale(0.9632 1)" font-size="33.6">2.016</text>
<text transform="translate(1105.08 2465.4) scale(0.9671 1)" font-size="33.6">2871.456</text>
<text transform="translate(1508.58 2175.5) scale(1.0159 1)" font-size="39.6" font-weight="bold">pop</text>
<text transform="translate(1300.17 2465.4) scale(0.9626 1)" font-size="33.6">1.860</text>
<text transform="translate(1655.58 2465.4) scale(0.9642 1)" font-size="33.6">2657.996</text>
<text transform="translate(95.88 2207.04) scale(1.0488 1)" font-size="35.9">1.0</text>
<text transform="translate(95.02 2313.44) scale(1.0313 1)" font-size="35.9">0.5</text>
<text transform="translate(94.98 2419.84) scale(1.0569 1)" font-size="35.9">0.0</text>
<text transform="translate(376.11 2516.3) scale(0.9533 1)" font-size="39.6" font-weight="bold">visitors</text>
<text transform="translate(193.88 2805.7) scale(0.9636 1)" font-size="33.6">2440.024</text>
<text transform="translate(501.63 2805.7) scale(0.9584 1)" font-size="33.6">8557500.000</text>
<text transform="translate(929.31 2516.3) scale(0.9504 1)" font-size="39.6" font-weight="bold">visitors</text>
<text transform="translate(746.26 2805.7) scale(0.9696 1)" font-size="33.6">1973.805</text>
<text transform="translate(1054.43 2805.7) scale(0.9584 1)" font-size="33.6">8557500.000</text>
<text transform="translate(1479.31 2516.3) scale(0.9504 1)" font-size="39.6" font-weight="bold">visitors</text>
<text transform="translate(1296.36 2805.7) scale(0.9702 1)" font-size="33.6">1402.226</text>
<text transform="translate(1604.19 2805.7) scale(0.9596 1)" font-size="33.6">6006755.000</text>
<text transform="translate(95.88 2548.14) scale(1.0488 1)" font-size="35.9">1.0</text>
<text transform="translate(95.02 2654.54) scale(1.0313 1)" font-size="35.9">0.5</text>
<text transform="translate(94.98 2760.94) scale(1.0569 1)" font-size="35.9">0.0</text>
<text transform="translate(386.17 2857.3) scale(1.0206 1)" font-size="39.6" font-weight="bold">urban</text>
<text transform="translate(212.78 3146.5) scale(0.9796 1)" font-size="33.6">0.0</text>
<text transform="translate(626.1 3146.5) scale(0.9688 1)" font-size="33.6">0.1</text>
<text transform="translate(940.1 2857.3) scale(1.0101 1)" font-size="39.6" font-weight="bold">urban</text>
<text transform="translate(765.86 3143.3) scale(1.0000 1)" font-size="33.6">0.0</text>
<text transform="translate(1178.78 3143.3) scale(0.9803 1)" font-size="33.6">0.1</text>
<text transform="translate(1489.42 2857.3) scale(1.0025 1)" font-size="39.6" font-weight="bold">urban</text>
<text transform="translate(1314.06 3146.5) scale(0.9977 1)" font-size="33.6">0.0</text>
<text transform="translate(1728.89 3146.5) scale(0.9711 1)" font-size="33.6">0.1</text>
<text transform="translate(95.88 2888.54) scale(1.0488 1)" font-size="35.9">1.0</text>
<text transform="translate(95.02 2994.94) scale(1.0313 1)" font-size="35.9">0.5</text>
<text transform="translate(94.98 3101.34) scale(1.0569 1)" font-size="35.9">0.0</text>
<text transform="translate(55.6 1953.32) rotate(-90) scale(0.8844 1)" font-size="50.6" font-weight="bold">Forest fire risk</text>
</g>
</g>
</svg>
</body>
</html>
